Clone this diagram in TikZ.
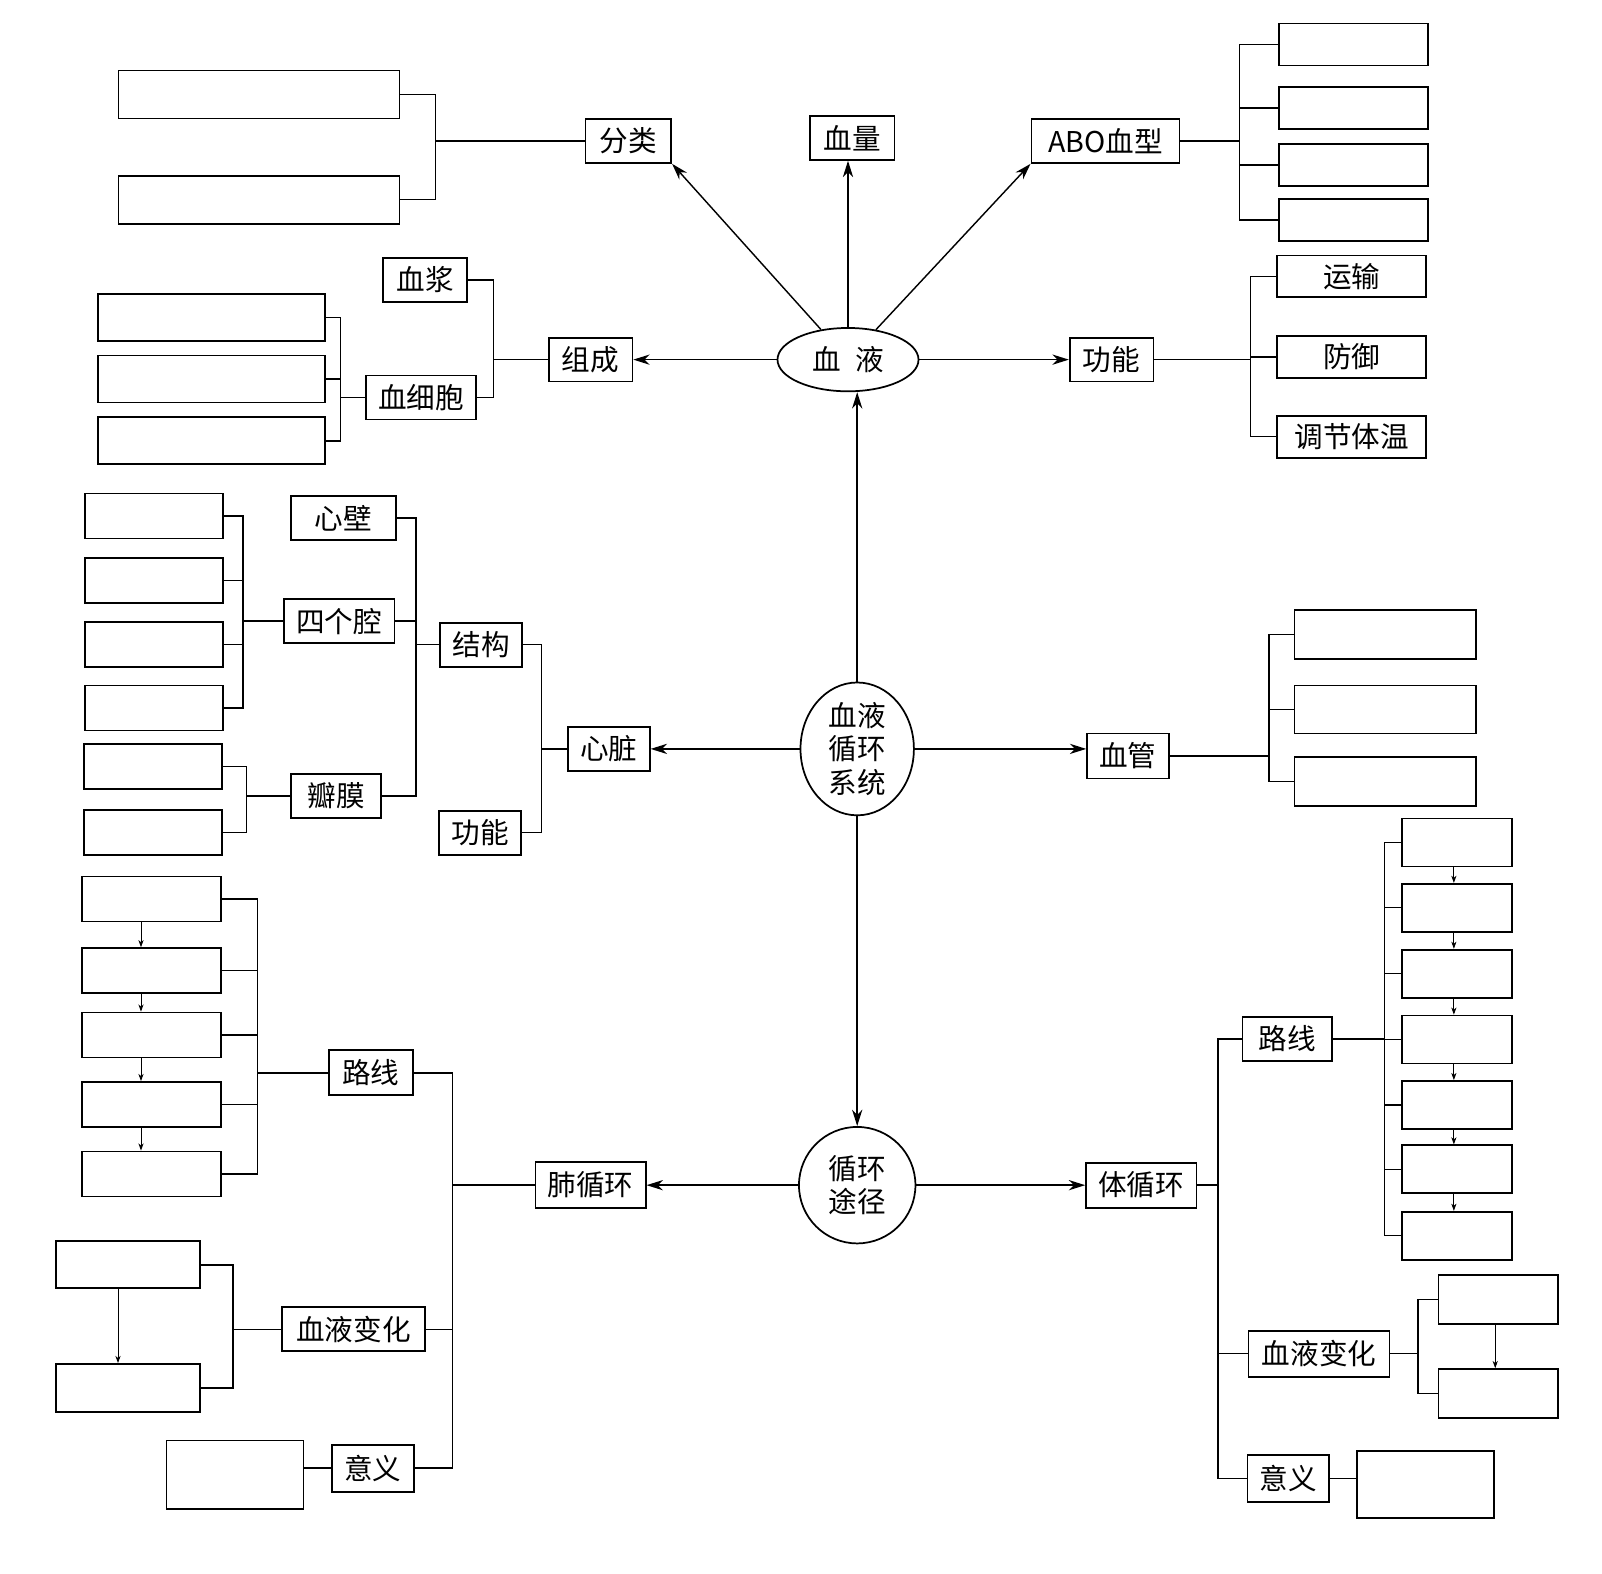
\documentclass[tikz,border=0pt]{standalone}
\usepackage{fontspec}
\newfontfamily\song{Noto Sans CJK SC}
\usetikzlibrary{arrows.meta,positioning,shapes.geometric}
\tikzset{%
   lab/.style={draw, line width=1.7pt, inner xsep=12pt, inner ysep=0pt, minimum height=43pt,
     font=\song\fontsize{28}{30}\selectfont},
   blank/.style={draw, line width=1.7pt, inner sep=0pt},
   hub/.style={draw, line width=1.7pt, inner sep=0pt, align=center,
     font=\song\fontsize{28}{33}\selectfont},
   link/.style={line width=1.4pt},
   arr/.style={line width=1.4pt, -{Stealth[length=16pt,width=10pt,inset=5pt]}},
   sarr/.style={line width=0.9pt, -{Stealth[length=7pt,width=5pt,inset=2pt]}},
}

\begin{document}
\begin{tikzpicture}[x=1pt, y=-1pt]
   \useasboundingbox (0,0) rectangle (1568,1540);
   % centre
   \node[hub, ellipse, minimum width=138pt, minimum height=62pt] (xueye) at (830,352) {血\enspace 液};
   \node[hub, ellipse, minimum width=111pt, minimum height=130pt] (xh) at (839,733) {血液\\循环\\系统};
   \node[hub, circle, minimum size=114pt] (tujing) at (839,1160) {循环\\途径};
   \draw[arr] (xh) -- (xh |- xueye.south);
   \draw[arr] (xh) -- (tujing);

   % blood
   \node[lab, minimum width=84pt] (fenlei) at (615,138) {分类};
   \node[lab, minimum width=83pt] (xueliang) at (834,135) {血量};
   \node[lab, minimum width=145pt] (abo) at (1082,138) {ABO血型};
   \node[lab, minimum width=82pt] (zucheng) at (578,352) {组成};
   \node[lab, minimum width=82pt] (gongneng) at (1088,352) {功能};
   \draw[arr] (xueye) -- (fenlei.south east);
   \draw[arr] (xueye) -- (xueye |- xueliang.south);
   \draw[arr] (xueye) -- (abo.south west);
   \draw[arr] (xueye) -- (zucheng);
   \draw[arr] (xueye) -- (gongneng);

   \node[blank, minimum width=275pt, minimum height=47pt] (fl1) at (253.5,92.5) {};
   \node[blank, minimum width=275pt, minimum height=47pt] (fl2) at (253.5,195.5) {};
   \coordinate (flj) at (426,138);
   \draw[link] (fl1.east) -| (flj) |- (fl2.east);
   \draw[link] (fenlei.west) -- (flj);

   \foreach \y [count=\i] in {43.5,105.5,161.5,215.5}
      \node[blank, minimum width=146pt, minimum height=41pt] (ab\i) at (1325,\y) {};
   \coordinate (abj) at (1213,138);
   \draw[link] (ab1.west) -| (abj) |- (ab4.west);
   \draw[link] (ab2.west) -- (ab2.west -| abj);
   \draw[link] (ab3.west) -- (ab3.west -| abj);
   \draw[link] (abo.east) -- (abj);

   \node[lab, minimum width=82pt] (xuejiang) at (416,274) {血浆};
   \node[lab, minimum width=108pt] (xxb) at (412,389) {血细胞};
   \coordinate (zcj) at (483,352);
   \draw[link] (xuejiang.east) -| (zcj) |- (xxb.east);
   \draw[link] (zucheng.west) -- (zcj);
   \foreach \y [count=\i] in {311,371,431.5}
      \node[blank, minimum width=222pt, minimum height=46pt] (xb\i) at (207,\y) {};
   \coordinate (xbj) at (333,389);
   \draw[link] (xb1.east) -| (xbj) |- (xb3.east);
   \draw[link] (xb2.east) -- (xb2.east -| xbj);
   \draw[link] (xxb.west) -- (xbj);

   \node[lab, minimum width=146pt, minimum height=41pt] (yunshu) at (1323,270.5) {运输};
   \node[lab, minimum width=146pt, minimum height=41pt] (fangyu) at (1323,349.5) {防御};
   \node[lab, minimum width=146pt, minimum height=41pt] (tiaojie) at (1323,427.5) {调节体温};
   \coordinate (gnj) at (1224,352);
   \draw[link] (yunshu.west) -| (gnj) |- (tiaojie.west);
   \draw[link] (fangyu.west) -- (fangyu.west -| gnj);
   \draw[link] (gongneng.east) -- (gnj);

   % heart and vessels
   \node[lab, minimum width=74pt] (xinzang) at (596,733) {心脏};
   \node[lab, minimum width=78pt, minimum height=44pt] (xueguan) at (1104,740) {血管};
   \draw[arr] (xh) -- (xinzang);
   \draw[arr] (xh) -- (xh -| xueguan.west);

   \foreach \y/\h [count=\i] in {621/48,694.5/47,765/48}
      \node[blank, minimum width=178pt, minimum height=\h pt] (xg\i) at (1356,\y) {};
   \coordinate (xgj) at (1242,740);
   \draw[link] (xg1.west) -| (xgj) |- (xg3.west);
   \draw[link] (xg2.west) -- (xg2.west -| xgj);
   \draw[link] (xueguan.east) -- (xgj);

   \node[lab, minimum width=75pt] (jiegou) at (471,631) {结构};
   \node[lab, minimum width=76pt] (xzgn) at (470,815) {功能};
   \coordinate (xzj) at (530,733);
   \draw[link] (jiegou.east) -| (xzj) |- (xzgn.east);
   \draw[link] (xinzang.west) -- (xzj);

   \node[lab, minimum width=103pt] (xinbi) at (336,507) {心壁};
   \node[lab, minimum width=105pt] (sigq) at (332,608) {四个腔};
   \node[lab, minimum width=88pt] (banmo) at (329,779) {瓣膜};
   \coordinate (jgj) at (407,631);
   \draw[link] (xinbi.east) -| (jgj) |- (banmo.east);
   \draw[link] (sigq.east) -- (sigq.east -| jgj);
   \draw[link] (jiegou.west) -- (jgj);

   \foreach \y [count=\i] in {505,568,631,693}
      \node[blank, minimum width=135pt, minimum height=44pt] (sq\i) at (150.5,\y) {};
   \coordinate (sqj) at (238,608);
   \draw[link] (sq1.east) -| (sqj) |- (sq4.east);
   \draw[link] (sq2.east) -- (sq2.east -| sqj);
   \draw[link] (sq3.east) -- (sq3.east -| sqj);
   \draw[link] (sigq.west) -- (sqj);

   \foreach \y [count=\i] in {750,815}
      \node[blank, minimum width=135pt, minimum height=44pt] (bm\i) at (149.5,\y) {};
   \coordinate (bmj) at (241,779);
   \draw[link] (bm1.east) -| (bmj) |- (bm2.east);
   \draw[link] (banmo.west) -- (bmj);

   % pulmonary circulation
   \node[lab, minimum width=108pt, minimum height=45pt] (fxh) at (578,1160) {肺循环};
   \draw[arr] (tujing) -- (fxh);
   \node[lab, minimum width=82pt, minimum height=44pt] (fluxian) at (363,1050) {路线};
   \node[lab, minimum width=140pt] (fbh) at (346,1301) {血液变化};
   \node[lab, minimum width=76pt, minimum height=46pt] (fyy) at (365,1437) {意义};
   \coordinate (fxj) at (443,1160);
   \draw[link] (fluxian.east) -| (fxj) |- (fyy.east);
   \draw[link] (fbh.east) -- (fbh.east -| fxj);
   \draw[link] (fxh.west) -- (fxj);

   \foreach \y [count=\i] in {880,950,1013,1081,1149}
      \node[blank, minimum width=136pt, minimum height=44pt] (lx\i) at (148,\y) {};
   \foreach \i [evaluate=\i as \j using int(\i+1)] in {1,...,4}
      \draw[sarr] ([xshift=-10pt]lx\i.south) -- ([xshift=-10pt]lx\j.north);
   \coordinate (lxj) at (252,1050);
   \draw[link] (lx1.east) -| (lxj) |- (lx5.east);
   \foreach \i in {2,3,4}
      \draw[link] (lx\i.east) -- (lx\i.east -| lxj);
   \draw[link] (fluxian.west) -- (lxj);

   \node[blank, minimum width=141pt, minimum height=46pt] (bh1) at (125.5,1238) {};
   \node[blank, minimum width=141pt, minimum height=47pt] (bh2) at (125.5,1358.5) {};
   \draw[sarr] ([xshift=-10pt]bh1.south) -- ([xshift=-10pt]bh2.north);
   \coordinate (bhj) at (228,1301);
   \draw[link] (bh1.east) -| (bhj) |- (bh2.east);
   \draw[link] (fbh.west) -- (bhj);

   \node[blank, minimum width=134pt, minimum height=67pt] (fyb) at (230,1443.5) {};
   \draw[link] (fyy.west) -- (fyy.west -| fyb.east);

   % systemic circulation
   \node[lab, minimum width=105pt, minimum height=44pt] (txh) at (1117,1160) {体循环};
   \draw[arr] (tujing) -- (txh);
   \node[lab, minimum width=88pt] (tluxian) at (1260,1017) {路线};
   \node[lab, minimum width=138pt, minimum height=45pt] (tbh) at (1291,1325) {血液变化};
   \node[lab, minimum width=79pt, minimum height=46pt] (tyy) at (1261,1447) {意义};
   \coordinate (txj) at (1192,1160);
   \draw[link] (tluxian.west) -| (txj) |- (tyy.west);
   \draw[link] (tbh.west) -- (tbh.west -| txj);
   \draw[link] (txh.east) -- (txj);

   \foreach \y [count=\i] in {824.5,888.5,953,1017.5,1081.5,1144.5,1209.5}
      \node[blank, minimum width=108pt, minimum height=47pt] (tl\i) at (1426,\y) {};
   \foreach \i [evaluate=\i as \j using int(\i+1)] in {1,...,6}
      \draw[sarr] ([xshift=-3pt]tl\i.south) -- ([xshift=-3pt]tl\j.north);
   \coordinate (tlj) at (1355,1017);
   \draw[link] (tl1.west) -| (tlj) |- (tl7.west);
   \foreach \i in {2,...,6}
      \draw[link] (tl\i.west) -- (tl\i.west -| tlj);
   \draw[link] (tluxian.east) -- (tlj);

   \node[blank, minimum width=117pt, minimum height=48pt] (tb1) at (1466.5,1272) {};
   \node[blank, minimum width=117pt, minimum height=48pt] (tb2) at (1466.5,1364) {};
   \draw[sarr] ([xshift=-3pt]tb1.south) -- ([xshift=-3pt]tb2.north);
   \coordinate (tbj) at (1388,1325);
   \draw[link] (tb1.west) -| (tbj) |- (tb2.west);
   \draw[link] (tbh.east) -- (tbj);

   \node[blank, minimum width=134pt, minimum height=66pt] (tyb) at (1395,1453) {};
   \draw[link] (tyy.east) -- (tyy.east -| tyb.west);
\end{tikzpicture}
\end{document}
